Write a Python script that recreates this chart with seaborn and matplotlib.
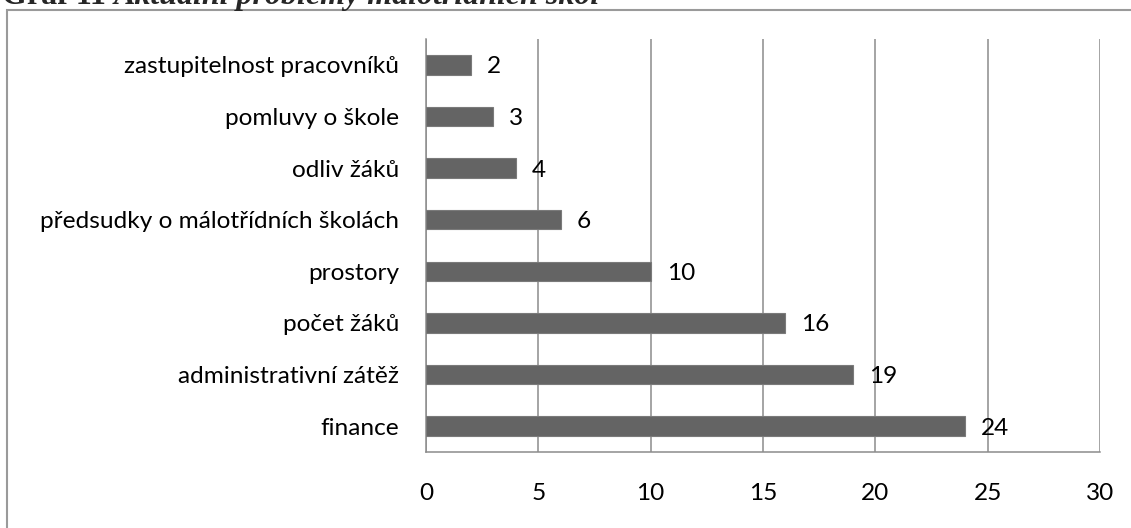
import matplotlib
matplotlib.use("Agg")
import matplotlib.pyplot as plt
from matplotlib.patches import Rectangle
from matplotlib.ticker import FixedLocator
import seaborn as sns
import pandas as pd

# data (top to bottom as drawn)
categories = [
    "zastupitelnost pracovníků",
    "pomluvy o škole",
    "odliv žáků",
    "předsudky o málotřídních školách",
    "prostory",
    "počet žáků",
    "administrativní zátěž",
    "finance",
]
counts = [2, 3, 4, 6, 10, 16, 19, 24]
x_ticks = [0, 5, 10, 15, 20, 25, 30]

df = pd.DataFrame({"problem": categories, "count": counts})

sns.set_style("white")
plt.rcParams["font.family"] = ["Lato", "DejaVu Sans"]

W, H = 1131, 528
fig = plt.figure(figsize=(W / 100, H / 100), dpi=100)
ax = fig.add_axes([426 / W, 1 - 452 / H, (1100 - 426) / W, (452 - 39) / H])

grid_c = "#8c8c8c"
fs = 17.6
sns.barplot(data=df, y="problem", x="count", orient="h", order=categories,
            color="#646464", width=0.38, saturation=1,
            edgecolor="#7a7a7a", linewidth=0.8, ax=ax, zorder=3)

ax.set_xlim(0, 30)
ax.set_ylim(len(categories) - 0.5, -0.5)
ax.set_xticks(x_ticks)
ax.set_xticklabels([str(t) for t in x_ticks], fontsize=fs)
ax.xaxis.grid(True, color=grid_c, linewidth=1.1, zorder=0)
ax.set_axisbelow(True)
ax.set_xlabel("")
ax.set_ylabel("")

for s in ["top", "right"]:
    ax.spines[s].set_visible(False)
for s in ["left", "bottom"]:
    ax.spines[s].set_color(grid_c)
    ax.spines[s].set_linewidth(1.1)

ax.tick_params(axis="x", direction="out", length=5.5, width=1.1, color=grid_c,
               pad=16.5, labelcolor="black")
ax.tick_params(axis="y", which="major", length=0, pad=19.5, labelsize=fs,
               labelcolor="black")
ax.yaxis.set_minor_locator(FixedLocator([i - 0.5 for i in range(len(categories) + 1)]))
ax.tick_params(axis="y", which="minor", direction="out", length=5, width=1.1,
               color=grid_c)

for i, v in enumerate(counts):
    ax.annotate(str(v), xy=(v, i), xytext=(11.5, 0), textcoords="offset points",
                ha="left", va="center_baseline", fontsize=fs, color="black")

# chart border (extends past right and bottom edges)
fig.patches.append(Rectangle((7 / W, -0.1), 1.2, 1 - 10 / H + 0.1,
                             transform=fig.transFigure, fill=False,
                             edgecolor="#9a9a9a", linewidth=1.5))

# title, clipped at the top edge as in the source
base_y = 1 - 4 / H
t1 = fig.text(2 / W, base_y, "Graf 11 ", family="Liberation Serif",
              weight="bold", fontsize=23, va="baseline", ha="left")
fig.canvas.draw()
bb = t1.get_window_extent()
fig.text(bb.x1 / W, base_y, "Aktuální problémy málotřídních škol",
         family="Liberation Serif", weight="bold", style="italic",
         fontsize=23, va="baseline", ha="left")

fig.savefig("out.png", dpi=100)
